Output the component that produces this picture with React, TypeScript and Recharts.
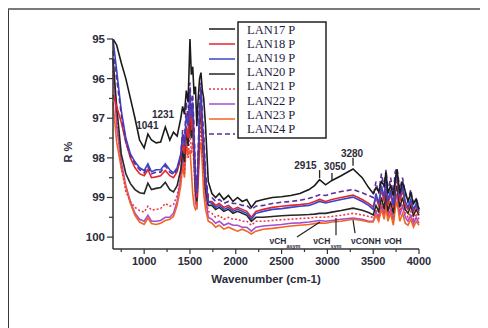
import React from 'react';
import { LineChart, Line, XAxis, YAxis, ReferenceLine, ReferenceDot } from 'recharts';

// wavenumber grid (cm-1), shared by every spectrum
const wavenumbers = [
  660, 700, 750, 800, 850, 900, 950, 1000, 1041, 1080, 1130, 1180, 1231, 1280, 1320, 1360,
  1400, 1420, 1440, 1460, 1480, 1500, 1515, 1530, 1545, 1560, 1575, 1590, 1605, 1620, 1635, 1650, 1670, 1700,
  1740, 1780, 1820, 1870, 1920, 1970, 2020, 2070, 2120, 2170, 2220, 2300,
  2400, 2500, 2600, 2700, 2800, 2860, 2915, 2980, 3050, 3150, 3280, 3380, 3450,
  3500, 3530, 3560, 3590, 3620, 3640, 3660, 3690, 3720, 3740, 3760, 3790, 3820, 3850, 3880, 3910, 3940, 3970, 4000,
];

const lan17 = [
  95.0, 95.15, 95.6, 96.0, 96.5, 97.0, 97.55, 97.75, 97.4, 97.55, 97.62, 97.6, 97.22, 97.55, 97.35, 97.45,
  97.0, 96.7, 96.9, 96.3, 96.6, 95.0, 95.9, 95.7, 96.4, 96.2, 97.2, 96.5, 96.0, 95.85, 96.3, 96.5, 97.2, 98.6,
  98.9, 99.0, 98.9, 99.05, 98.95, 99.1, 99.0, 99.1, 99.05, 99.25, 99.1, 99.05,
  99.0, 98.98, 98.95, 98.9, 98.8, 98.7, 98.55, 98.68, 98.57, 98.45, 98.28, 98.5, 98.75,
  98.9, 98.75, 98.85, 98.6, 98.7, 98.35, 98.9, 98.7, 98.95, 98.55, 98.3, 98.9, 98.6, 98.85, 99.1, 98.9, 99.15, 99.05, 99.3,
];

const lan18 = [
  96.4, 96.7, 97.1, 97.6, 98.0, 98.25, 98.4, 98.45, 98.3, 98.5, 98.48, 98.45, 98.32, 98.45, 98.5, 98.35,
  98.0, 97.6, 97.9, 97.2, 97.5, 96.6, 97.3, 96.9, 97.8, 98.6, 99.0, 98.2, 97.0, 96.6, 97.4, 97.8, 98.6, 99.1,
  99.1, 99.2, 99.15, 99.25, 99.2, 99.3, 99.25, 99.3, 99.35, 99.5, 99.35, 99.3,
  99.25, 99.22, 99.2, 99.18, 99.15, 99.1, 99.05, 99.1, 99.05, 99.0, 98.94, 99.05, 99.15,
  99.24, 99.0, 99.2, 98.8, 99.1, 98.6, 99.2, 98.9, 99.25, 98.7, 98.5, 99.1, 98.8, 99.2, 99.3, 99.1, 99.35, 99.2, 99.4,
];

const lan19 = [
  95.0, 95.8, 96.8, 97.5, 97.9, 98.1, 98.25, 98.32, 98.15, 98.35, 98.3, 98.3, 98.15, 98.3, 98.38, 98.25,
  97.9, 97.4, 97.7, 96.9, 97.2, 96.3, 97.0, 96.6, 97.5, 98.5, 98.9, 98.0, 96.8, 96.3, 97.1, 97.6, 98.5, 99.1,
  99.15, 99.25, 99.2, 99.3, 99.25, 99.35, 99.3, 99.35, 99.4, 99.55, 99.4, 99.35,
  99.3, 99.28, 99.25, 99.22, 99.2, 99.15, 99.1, 99.14, 99.1, 99.05, 98.99, 99.1, 99.2,
  99.3, 98.9, 99.15, 98.7, 99.0, 98.45, 99.1, 98.8, 99.2, 98.6, 98.4, 99.0, 98.7, 99.1, 99.25, 99.05, 99.3, 99.15, 99.35,
];

const lan20 = [
  95.5, 96.7, 97.9, 98.4, 98.65, 98.8, 98.88, 98.9, 98.64, 98.8, 98.77, 98.75, 98.62, 98.8, 98.86, 98.7,
  98.3, 97.8, 98.1, 97.3, 97.7, 96.8, 97.5, 97.1, 98.0, 98.8, 99.1, 98.3, 97.2, 96.7, 97.5, 98.0, 98.8, 99.2,
  99.2, 99.3, 99.25, 99.35, 99.3, 99.4, 99.35, 99.4, 99.45, 99.6, 99.5, 99.5,
  99.48, 99.46, 99.45, 99.44, 99.43, 99.42, 99.4, 99.4, 99.37, 99.33, 99.27, 99.32, 99.38,
  99.44, 99.2, 99.35, 99.0, 99.3, 98.8, 99.35, 99.1, 99.4, 98.9, 98.7, 99.25, 99.0, 99.3, 99.4, 99.2, 99.45, 99.3, 99.45,
];

const lan21 = [
  95.8, 97.0, 98.2, 98.85, 99.1, 99.25, 99.33, 99.37, 99.22, 99.32, 99.3, 99.28, 99.15, 99.22, 99.18, 98.95,
  98.5, 98.1, 98.4, 97.7, 98.0, 97.3, 97.9, 97.6, 98.3, 99.0, 99.2, 98.5, 97.6, 97.2, 97.9, 98.3, 99.0, 99.35,
  99.4, 99.5, 99.45, 99.55, 99.5, 99.55, 99.55, 99.6, 99.6, 99.7, 99.6, 99.6,
  99.58, 99.56, 99.55, 99.53, 99.52, 99.5, 99.5, 99.5, 99.48, 99.45, 99.4, 99.44, 99.48,
  99.5, 99.3, 99.45, 99.15, 99.4, 99.0, 99.45, 99.2, 99.5, 99.1, 98.9, 99.35, 99.15, 99.4, 99.5, 99.35, 99.55, 99.4, 99.55,
];

const lan22 = [
  95.5, 97.2, 98.1, 98.7, 99.1, 99.4, 99.55, 99.6, 99.45, 99.6, 99.6, 99.58, 99.5, 99.5, 99.4, 99.1,
  98.5, 97.9, 98.3, 97.2, 97.6, 96.5, 97.4, 96.9, 98.0, 99.1, 99.3, 98.3, 97.0, 96.5, 97.3, 98.0, 99.0, 99.5,
  99.55, 99.65, 99.6, 99.7, 99.65, 99.7, 99.7, 99.75, 99.75, 99.85, 99.75, 99.72,
  99.7, 99.68, 99.65, 99.64, 99.62, 99.6, 99.58, 99.6, 99.58, 99.55, 99.52, 99.55, 99.6,
  99.6, 99.35, 99.55, 99.2, 99.5, 99.0, 99.5, 99.3, 99.6, 99.15, 98.9, 99.45, 99.2, 99.5, 99.6, 99.45, 99.65, 99.5, 99.65,
];

const lan23 = [
  96.6, 97.6, 98.25, 98.75, 99.15, 99.45, 99.62, 99.68, 99.52, 99.66, 99.68, 99.65, 99.58, 99.55, 99.48, 99.2,
  98.7, 98.2, 98.5, 97.6, 97.9, 97.8, 98.3, 98.9, 99.2, 99.3, 99.25, 98.6, 97.8, 97.6, 98.2, 98.9, 99.3, 99.6,
  99.65, 99.75, 99.7, 99.8, 99.75, 99.8, 99.85, 99.8, 99.85, 99.92, 99.85, 99.8,
  99.78, 99.75, 99.72, 99.7, 99.68, 99.66, 99.64, 99.65, 99.62, 99.6, 99.55, 99.58, 99.62,
  99.62, 99.45, 99.6, 99.3, 99.55, 99.2, 99.6, 99.4, 99.7, 99.3, 99.1, 99.6, 99.4, 99.65, 99.7, 99.55, 99.75, 99.6, 99.7,
];

const lan24 = [
  95.3, 96.0, 96.9, 97.6, 97.95, 98.15, 98.3, 98.38, 98.22, 98.4, 98.36, 98.36, 98.2, 98.36, 98.42, 98.3,
  97.95, 97.3, 97.6, 96.6, 97.0, 96.1, 96.8, 96.4, 97.3, 98.4, 98.8, 97.8, 96.5, 96.1, 96.9, 97.4, 98.4, 99.0,
  99.0, 99.1, 99.05, 99.15, 99.1, 99.15, 99.15, 99.2, 99.2, 99.3, 99.22, 99.2,
  99.15, 99.12, 99.1, 99.07, 99.02, 98.98, 98.93, 98.95, 98.9, 98.85, 98.8, 98.88, 98.95,
  99.0, 98.6, 98.9, 98.4, 98.75, 98.3, 98.85, 98.5, 98.95, 98.35, 98.25, 98.8, 98.5, 98.9, 99.1, 98.8, 99.2, 99.0, 99.3,
];

const xTickLabels = [1000, 1500, 2000, 2500, 3000, 3500, 4000];
const xMinorTicks = [750, 1250, 1750, 2250, 2750, 3250, 3750];
const yTickLabels = [95, 96, 97, 98, 99, 100];
const yMinorTicks = [95.5, 96.5, 97.5, 98.5, 99.5];

const series = [
  { key: 'lan17', name: 'LAN17 P', values: lan17, color: '#1b1b1b', dash: undefined as string | undefined },
  { key: 'lan18', name: 'LAN18 P', values: lan18, color: '#e3262d', dash: undefined },
  { key: 'lan19', name: 'LAN19 P', values: lan19, color: '#3a46c8', dash: undefined },
  { key: 'lan20', name: 'LAN20 P', values: lan20, color: '#262626', dash: undefined },
  { key: 'lan21', name: 'LAN21 P', values: lan21, color: '#f03a4a', dash: '2 2' },
  { key: 'lan22', name: 'LAN22 P', values: lan22, color: '#a24fd0', dash: undefined },
  { key: 'lan23', name: 'LAN23 P', values: lan23, color: '#f26522', dash: undefined },
  { key: 'lan24', name: 'LAN24 P', values: lan24, color: '#5b2d9e', dash: '5 3' },
];

// bottom-most traces drawn first
const drawOrder = ['lan22', 'lan23', 'lan21', 'lan20', 'lan18', 'lan19', 'lan24', 'lan17'];

const data = wavenumbers.map((wn, i) => {
  const row: Record<string, number> = { wn };
  series.forEach((s) => {
    row[s.key] = s.values[i];
  });
  return row;
});

const FONT = '"Liberation Sans", Arial, sans-serif';
const INK = '#2c2c3a';

const XTick = (props: any) => {
  const { x, y, payload } = props;
  const v = payload.value;
  const major = xTickLabels.includes(v);
  const axisY = y - 8;
  return (
    <g>
      <line x1={x} x2={x} y1={axisY} y2={axisY + (major ? 5 : 3)} stroke="#333" strokeWidth={1.2} />
      {major && (
        <text x={x} y={axisY + 16} textAnchor="middle" fontSize={11} fontWeight="bold" fill={INK} fontFamily={FONT}>
          {v}
        </text>
      )}
    </g>
  );
};

const YTick = (props: any) => {
  const { x, y, payload } = props;
  const v = payload.value;
  const major = yTickLabels.includes(v);
  const axisX = x + 8;
  return (
    <g>
      <line x1={axisX - (major ? 6 : 4)} x2={axisX} y1={y} y2={y} stroke="#333" strokeWidth={1.2} />
      {major && (
        <text x={axisX - 8} y={y + 4} textAnchor="end" fontSize={11.5} fontWeight="bold" fill={INK} fontFamily={FONT}>
          {v}
        </text>
      )}
    </g>
  );
};

const note = (text: string, size = 10, sub?: string) => (p: any) => (
  <text x={p.cx} y={p.cy} textAnchor="middle" fontSize={size} fontWeight="bold" fill={INK} fontFamily={FONT}>
    {text}
    {sub && (
      <tspan dy={4} fontSize={5.5}>
        {sub}
      </tspan>
    )}
  </text>
);

const Legend = () => (
  <svg width={140} height={130} style={{ position: 'absolute', left: 196, top: 10 }}>
    <rect x={34} y={4} width={88} height={116} fill="#fff" stroke="#222" strokeWidth={1.5} />
    {series.map((s, i) => (
      <g key={s.key}>
        <line
          x1={5}
          x2={31}
          y1={11 + i * 15}
          y2={11 + i * 15}
          stroke={s.color}
          strokeWidth={1.5}
          strokeDasharray={s.dash}
        />
        <text x={43} y={16 + i * 14.1} fontSize={12.5} fill="#1c1c40" fontFamily='"Liberation Serif", "Times New Roman", serif'>
          {s.name}
        </text>
      </g>
    ))}
  </svg>
);

export default function App() {
  return (
    <div style={{ position: 'relative', width: 480, height: 320 }}>
      <div
        style={{
          position: 'absolute',
          left: -1,
          top: 0,
          width: 481,
          height: 320,
          borderTop: '2px solid #7a7a7a',
          borderLeft: '2px solid #3a3a3a',
          boxSizing: 'border-box',
        }}
      />
      <LineChart width={480} height={320} data={data} margin={{ top: 31, right: 69, bottom: 0, left: 0 }}>
        <XAxis
          dataKey="wn"
          type="number"
          domain={[660, 4000]}
          ticks={[...xMinorTicks, ...xTickLabels].sort((a, b) => a - b)}
          interval={0}
          height={79}
          tickLine={false}
          tickSize={6}
          tickMargin={2}
          axisLine={{ stroke: '#333', strokeWidth: 1.5 }}
          tick={<XTick />}
          label={(p: any) => {
            const vb = p.viewBox ?? p;
            return (
              <text x={vb.x + vb.width / 2} y={vb.y + 34} textAnchor="middle" fontSize={11.5} fontWeight="bold" fill={INK} fontFamily={FONT}>
                Wavenumber (cm-1)
              </text>
            );
          }}
        />
        <YAxis
          type="number"
          reversed
          domain={[95, 100.3]}
          allowDataOverflow
          ticks={[...yTickLabels, ...yMinorTicks].sort((a, b) => a - b)}
          interval={0}
          width={105}
          tickLine={false}
          tickSize={6}
          tickMargin={2}
          axisLine={{ stroke: '#333', strokeWidth: 1.5 }}
          tick={<YTick />}
          label={(p: any) => {
            const vb = p.viewBox ?? p;
            const cx = vb.x + vb.width - 41;
            const cy = vb.y + vb.height / 2 + 8;
            return (
              <text x={cx} y={cy} textAnchor="middle" fontSize={11} fontWeight="bold" fill={INK} fontFamily={FONT} transform={`rotate(-90 ${cx} ${cy})`}>
                R %
              </text>
            );
          }}
        />
        {drawOrder.map((k) => {
          const s = series.find((q) => q.key === k)!;
          return (
            <Line
              key={s.key}
              dataKey={s.key}
              name={s.name}
              stroke={s.color}
              strokeWidth={1.6}
              strokeDasharray={s.dash}
              dot={false}
              type="linear"
              isAnimationActive={false}
            />
          );
        })}

        <ReferenceLine segment={[{ x: 2915, y: 98.31 }, { x: 2915, y: 98.51 }]} stroke="#222" strokeWidth={1.3} />
        <ReferenceLine segment={[{ x: 3050, y: 98.38 }, { x: 3050, y: 98.56 }]} stroke="#222" strokeWidth={1.3} />
        <ReferenceLine segment={[{ x: 3280, y: 98.0 }, { x: 3280, y: 98.2 }]} stroke="#222" strokeWidth={1.3} />
        <ReferenceLine segment={[{ x: 2668, y: 100.0 }, { x: 2919, y: 99.62 }]} stroke="#222" strokeWidth={1.2} />
        <ReferenceLine segment={[{ x: 3094, y: 99.52 }, { x: 3094, y: 99.95 }]} stroke="#222" strokeWidth={1.2} />
        <ReferenceLine segment={[{ x: 3280, y: 99.57 }, { x: 3302, y: 99.9 }]} stroke="#222" strokeWidth={1.2} />

        <ReferenceDot x={1035} y={97.27} r={0} shape={note('1041')} />
        <ReferenceDot x={1206} y={97.0} r={0} shape={note('1231')} />
        <ReferenceDot x={2760} y={98.27} r={0} shape={note('2915')} />
        <ReferenceDot x={3083} y={98.3} r={0} shape={note('3050')} />
        <ReferenceDot x={3269} y={97.98} r={0} shape={note('3280')} />
        <ReferenceDot x={2537} y={100.18} r={0} shape={note('\u03bdCH', 8.5, 'asym')} />
        <ReferenceDot x={3000} y={100.18} r={0} shape={note('\u03bdCH', 8.5, 'sym')} />
        <ReferenceDot x={3421} y={100.18} r={0} shape={note('\u03bdCONH', 8.5)} />
        <ReferenceDot x={3716} y={100.18} r={0} shape={note('\u03bdOH', 8.5)} />
      </LineChart>
      <Legend />
    </div>
  );
}
